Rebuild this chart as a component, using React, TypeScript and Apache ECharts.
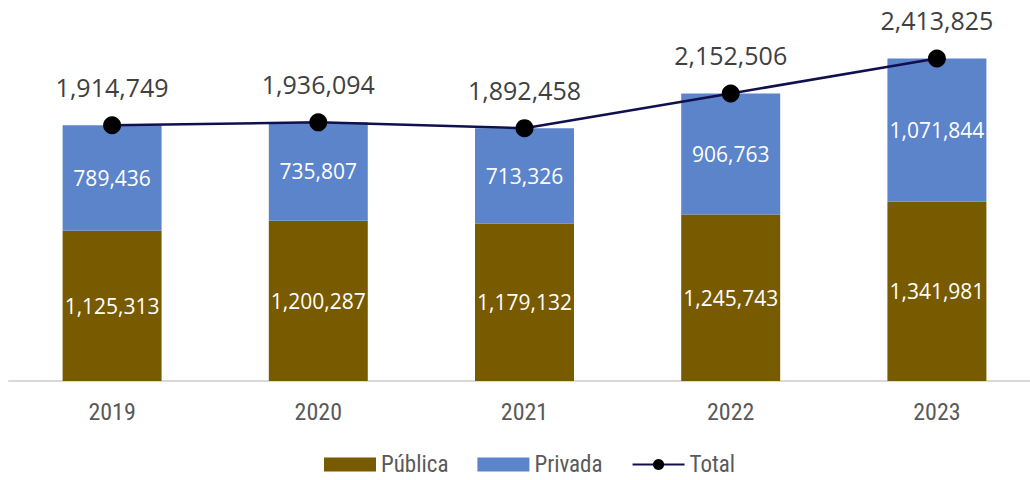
import React, { useEffect, useRef } from "react";
import * as echarts from "echarts";

const years = ["2019", "2020", "2021", "2022", "2023"];
const publica = [1125313, 1200287, 1179132, 1245743, 1341981];
const privada = [789436, 735807, 713326, 906763, 1071844];
const total = [1914749, 1936094, 1892458, 2152506, 2413825];

const fmt = (v: number) => v.toLocaleString("en-US");
const numFont = "'Open Sans', 'Noto Sans', sans-serif";
const narrowFont = "'Liberation Sans Narrow', 'Arial Narrow', 'Roboto Condensed', sans-serif";

export default function App() {
  const ref = useRef<HTMLDivElement>(null);
  useEffect(() => {
    if (!ref.current) return;
    const chart = echarts.init(ref.current, undefined, { renderer: "svg" });
    chart.setOption({
      animation: false,
      grid: { left: 9, width: 1031, top: 47, height: 334, containLabel: false },
      legend: {
        top: 448,
        left: 319,
        itemWidth: 52,
        itemHeight: 14,
        itemGap: 29,
        textStyle: { fontFamily: narrowFont, fontSize: 23, color: "#595959" },
        data: [
          { name: "Pública", icon: "rect" },
          { name: "Privada", icon: "rect" },
          { name: "Total" },
        ],
      },
      xAxis: {
        type: "category",
        data: years,
        axisLine: { show: true, lineStyle: { color: "#d9d9d9", width: 2 } },
        axisTick: { show: false },
        axisLabel: { fontFamily: narrowFont, fontSize: 24, color: "#595959", margin: 19 },
      },
      yAxis: {
        type: "value",
        min: 0,
        max: 2500000,
        show: false,
        splitLine: { show: false },
      },
      series: [
        {
          name: "Pública",
          type: "bar",
          stack: "a",
          data: publica,
          barWidth: "48%",
          itemStyle: { color: "#785A00" },
          label: {
            show: true,
            position: "inside",
            color: "#ffffff",
            fontFamily: numFont,
            fontSize: 21,
            formatter: (p: any) => fmt(p.value),
          },
        },
        {
          name: "Privada",
          type: "bar",
          stack: "a",
          data: privada,
          barWidth: "48%",
          itemStyle: { color: "#5B84CB" },
          label: {
            show: true,
            position: "inside",
            color: "#ffffff",
            fontFamily: numFont,
            fontSize: 21,
            formatter: (p: any) => fmt(p.value),
          },
        },
        {
          name: "Total",
          type: "line",
          data: total,
          symbol: "circle",
          symbolSize: 18,
          itemStyle: { color: "#000000" },
          lineStyle: { color: "#10104F", width: 2.5 },
          label: {
            show: true,
            position: "top",
            distance: 17,
            color: "#404040",
            fontFamily: numFont,
            fontSize: 25,
            formatter: (p: any) => fmt(p.value),
          },
          z: 5,
        },
      ],
    });
    return () => chart.dispose();
  }, []);
  return (
    <div
      style={{ position: "fixed", left: 0, top: 0, width: 1030, height: 480, overflow: "hidden", background: "#ffffff" }}
    >
      <div ref={ref} style={{ width: 1050, height: 480 }} />
    </div>
  );
}
